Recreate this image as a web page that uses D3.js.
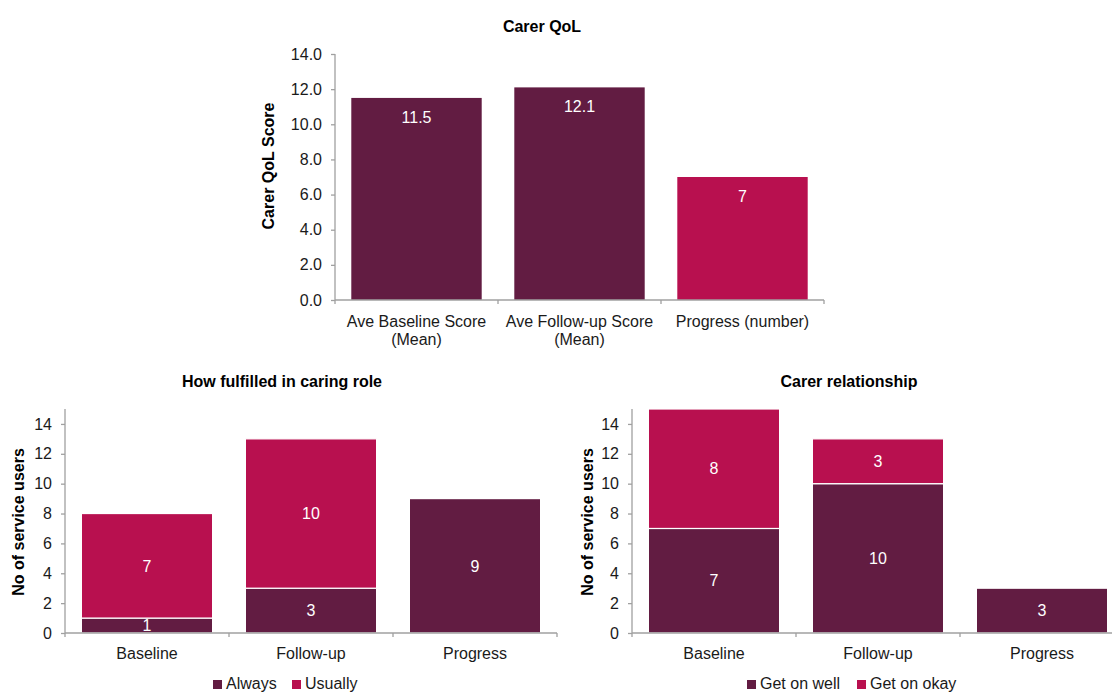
<!DOCTYPE html>
<html>
<head>
<meta charset="utf-8">
<script src="https://cdn.jsdelivr.net/npm/d3@7"></script>
<style>
  html, body { margin: 0; padding: 0; background: #fff; }
  svg { display: block; font-family: "Liberation Sans", Arial, sans-serif; }
</style>
</head>
<body>
<svg id="chart" width="1112" height="693"></svg>
<script>
// ---- Carer QoL (mean scores and progress) ----
const qolCategories = [["Ave Baseline Score", "(Mean)"], ["Ave Follow-up Score", "(Mean)"], ["Progress (number)"]];
const qolValues = [11.5, 12.1, 7];
const qolLabels = ["11.5", "12.1", "7"];
const qolTicks = [0, 2, 4, 6, 8, 10, 12, 14];

// ---- How fulfilled in caring role ----
const fulfilledCategories = ["Baseline", "Follow-up", "Progress"];
const fulfilledAlways = [1, 3, 9];
const fulfilledUsually = [7, 10, 0];
const fulfilledSeries = ["Always", "Usually"];

// ---- Carer relationship ----
const relationCategories = ["Baseline", "Follow-up", "Progress"];
const relationWell = [7, 10, 3];
const relationOkay = [8, 3, 0];
const relationSeries = ["Get on well", "Get on okay"];

const countTicks = [0, 2, 4, 6, 8, 10, 12, 14];

const DARK = "#621c42";
const PINK = "#b8104f";
const AXIS = "#a0a0a0";
const TEXT = "#1a1a1a";
const FS = "16px";

const svg = d3.select("#chart");

function drawAxes(g, x, y, ticks, fmt, x0, x1, yTop, y0) {
  // y axis
  const ya = d3.axisLeft(y).tickValues(ticks).tickFormat(fmt).tickSize(4).tickPadding(9);
  const yg = g.append("g").attr("transform", `translate(${x0},0)`).call(ya);
  yg.select(".domain").remove();
  yg.attr("font-family", null).attr("font-size", null);
  yg.append("line").attr("x1", 0).attr("x2", 0).attr("y1", yTop).attr("y2", y0)
    .attr("stroke", AXIS).attr("stroke-width", 1.3);
  yg.selectAll(".tick line").attr("stroke", AXIS).attr("stroke-width", 1.3);
  yg.selectAll(".tick text").attr("fill", TEXT).style("font-size", FS);

  // x axis line with boundary ticks between categories
  const xg = g.append("g");
  xg.append("line").attr("x1", x0).attr("x2", x1).attr("y1", y0).attr("y2", y0)
    .attr("stroke", AXIS).attr("stroke-width", 1.3);
  const step = x.step();
  const bounds = d3.range(x.domain().length + 1).map(i => x.range()[0] + i * step);
  xg.selectAll("line.b").data(bounds).enter().append("line").attr("class", "b")
    .attr("x1", d => d).attr("x2", d => d).attr("y1", y0).attr("y2", y0 + 4)
    .attr("stroke", AXIS).attr("stroke-width", 1.3);
}

function yTitle(text, cx, cy) {
  svg.append("text").attr("transform", `translate(${cx},${cy}) rotate(-90)`)
    .attr("text-anchor", "middle").attr("dominant-baseline", "central")
    .style("font-size", FS).style("font-weight", "bold").attr("fill", "#000").text(text);
}

function title(text, cx, baseline) {
  svg.append("text").attr("x", cx).attr("y", baseline).attr("text-anchor", "middle")
    .style("font-size", FS).style("font-weight", "bold").attr("fill", "#000").text(text);
}

// ================= Carer QoL =================
{
  const x0 = 335, x1 = 824, y0 = 300, yTop = 54;
  const x = d3.scaleBand().domain(d3.range(qolValues.length)).range([x0, x1])
    .paddingInner(0.2).paddingOuter(0.1);
  const y = d3.scaleLinear().domain([0, 14]).range([y0, yTop]);
  const g = svg.append("g");
  const colors = [DARK, DARK, PINK];
  g.selectAll("rect").data(qolValues).enter().append("rect")
    .attr("x", (d, i) => x(i)).attr("width", x.bandwidth())
    .attr("y", d => y(d)).attr("height", d => y0 - y(d))
    .attr("fill", (d, i) => colors[i]);
  drawAxes(g, x, y, qolTicks, d3.format(".1f"), x0, x1, yTop, y0);
  g.selectAll("text.v").data(qolValues).enter().append("text").attr("class", "v")
    .attr("x", (d, i) => x(i) + x.bandwidth() / 2).attr("y", d => y(d) + 25)
    .attr("text-anchor", "middle").attr("fill", "#fff").style("font-size", FS)
    .text((d, i) => qolLabels[i]);
  qolCategories.forEach((lines, i) => {
    const t = g.append("text").attr("x", x(i) + x.bandwidth() / 2).attr("y", y0 + 27)
      .attr("text-anchor", "middle").attr("fill", TEXT).style("font-size", FS);
    lines.forEach((ln, j) => t.append("tspan").attr("x", x(i) + x.bandwidth() / 2)
      .attr("dy", j === 0 ? 0 : 18).text(ln));
  });
  title("Carer QoL", 542, 32);
  yTitle("Carer QoL Score", 268, 166);
}

// ================= stacked count charts =================
function stacked(cfg) {
  const { x0, x1, categories, lower, upper, series, titleText, titleX, yTitleX, legend } = cfg;
  const y0 = 633, yTop = 409;
  const x = d3.scaleBand().domain(categories).range([x0, x1]).paddingInner(0.2).paddingOuter(0.1);
  const y = d3.scaleLinear().domain([0, 15]).range([y0, yTop]);
  const g = svg.append("g");
  const rows = categories.map((c, i) => ({ cat: c, a: lower[i], b: upper[i] }));
  const stack = d3.stack().keys(["a", "b"])(rows);
  const fills = [DARK, PINK];
  stack.forEach((layer, li) => {
    g.selectAll(null).data(layer.filter(d => d[1] > d[0])).enter().append("rect")
      .attr("x", d => x(d.data.cat)).attr("width", x.bandwidth())
      .attr("y", d => y(d[1])).attr("height", d => y(d[0]) - y(d[1]))
      .attr("fill", fills[li]).attr("stroke", "#fff").attr("stroke-width", 1.2);
  });
  drawAxes(g, x, y, countTicks, d3.format("d"), x0, x1, yTop, y0);
  stack.forEach(layer => {
    g.selectAll(null).data(layer.filter(d => d[1] > d[0])).enter().append("text")
      .attr("x", d => x(d.data.cat) + x.bandwidth() / 2)
      .attr("y", d => (y(d[0]) + y(d[1])) / 2).attr("dy", "0.36em")
      .attr("text-anchor", "middle").attr("fill", "#fff").style("font-size", FS)
      .text(d => d[1] - d[0]);
  });
  g.selectAll(null).data(categories).enter().append("text")
    .attr("x", d => x(d) + x.bandwidth() / 2).attr("y", 659)
    .attr("text-anchor", "middle").attr("fill", TEXT).style("font-size", FS).text(d => d);
  title(titleText, titleX, 387);
  yTitle("No of service users", yTitleX, 522);
  // legend
  series.forEach((s, i) => {
    const lx = legend[i];
    svg.append("rect").attr("x", lx).attr("y", 680).attr("width", 9).attr("height", 9).attr("fill", fills[i]);
    svg.append("text").attr("x", lx + 13).attr("y", 689).attr("fill", TEXT)
      .style("font-size", FS).text(s);
  });
}

stacked({
  x0: 65, x1: 557, categories: fulfilledCategories, lower: fulfilledAlways, upper: fulfilledUsually,
  series: fulfilledSeries, titleText: "How fulfilled in caring role", titleX: 282, yTitleX: 18,
  legend: [213, 292]
});
stacked({
  x0: 632, x1: 1124, categories: relationCategories, lower: relationWell, upper: relationOkay,
  series: relationSeries, titleText: "Carer relationship", titleX: 849, yTitleX: 587,
  legend: [747, 857]
});
</script>
</body>
</html>
